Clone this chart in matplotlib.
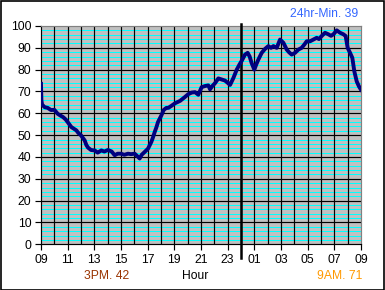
import matplotlib
matplotlib.use("Agg")
import matplotlib.pyplot as plt
from matplotlib.patches import Rectangle

plt.rcParams['font.family'] = ['Liberation Sans', 'DejaVu Sans']

# hours elapsed since 09:00
hours = [0.00, 0.03, 0.08, 0.275, 0.5, 0.75, 1.0, 1.25, 1.45, 1.65, 1.85, 2.0, 2.275, 2.45,
         2.65, 2.8, 3.0, 3.275, 3.4, 3.525, 3.75, 4.025, 4.25, 4.525, 4.75, 5.025, 5.3,
         5.525, 5.75, 6.0, 6.25, 6.525, 6.75, 7.025, 7.2, 7.4, 7.55, 7.775, 8.025, 8.275,
         8.4, 8.525, 8.65, 8.775, 9.025, 9.2, 9.4, 9.55, 9.8, 10.05, 10.43, 10.8, 11.05,
         11.3, 11.55, 11.8, 12.05, 12.3, 12.55, 12.68, 12.85, 13.05, 13.3, 13.55, 13.8,
         14.0, 14.18, 14.43, 14.68, 14.9, 15.05, 15.3, 15.5, 15.65, 15.8, 16.0, 16.15,
         16.3, 16.55, 16.8, 17.05, 17.25, 17.43, 17.68, 17.93, 18.18, 18.43, 18.6, 18.8,
         19.05, 19.3, 19.55, 19.75, 19.93, 20.18, 20.43, 20.68, 20.85, 21.05, 21.3, 21.55,
         21.75, 21.93, 22.18, 22.43, 22.68, 22.85, 23.0, 23.18, 23.35, 23.5, 23.68, 23.85,
         24.0]
values = [73.5, 66, 64, 62.8, 62.5, 61.5, 61.6, 59.8, 59.0, 58.3, 57.2, 56, 53.7, 53.0,
          52.2, 51.0, 49.9, 47.6, 45.5, 44.3, 43.2, 43.0, 42.0, 43.0, 42.5, 43.2, 42.5,
          40.8, 41.5, 41.5, 41.0, 41.5, 41.3, 41.5, 40.5, 39.3, 41.0, 42.3, 43.8, 46.9,
          49, 51.4, 53.5, 56, 59, 61.5, 62.5, 62.5, 63.5, 64.6, 65.7, 67.5, 68.8,
          69.5, 69.7, 68.5, 72.0, 72.5, 72.8, 71.0, 72.5, 73.8, 76.0, 75.5, 75.0,
          74.0, 73.0, 76.2, 80, 82.5, 84, 86.9, 87.7, 86, 83, 80, 82.5,
          84.6, 87.7, 89.5, 90.8, 90.0, 90.8, 90.0, 93.8, 92.3, 89.2, 88.0, 86.9,
          87.7, 89.2, 90.0, 91.5, 93.0, 93.0, 93.8, 94.6, 94.0, 95.4, 96.9, 96.2,
          95.5, 96.2, 98.0, 96.9, 96.2, 95.4, 90.0, 87.7, 85.4, 79.2, 74.6, 72.3,
          70.8]

tick_hours = list(range(0, 25, 2))
tick_labels = ["09", "11", "13", "15", "17", "19", "21", "23", "01", "03", "05", "07", "09"]
y_ticks = list(range(0, 101, 10))
midnight = 15

min_text = "24hr-Min. 39"
pm_text = "3PM. 42"
am_text = "9AM. 71"

W, H = 385, 290
fig = plt.figure(figsize=(W / 100, H / 100), dpi=100)
fig.patch.set_facecolor('white')
ax = fig.add_axes([41 / W, 1 - 244.3 / H, 320 / W, (244.3 - 26) / H])
ax.set_facecolor('#C0C0C0')
ax.set_xlim(0, 24)
ax.set_ylim(0, 100)

# minor cyan grid every 2
for y in range(2, 100, 2):
    if y % 10 != 0:
        ax.axhline(y, color='#00FFFF', lw=0.72, zorder=1)
for y in range(10, 100, 10):
    ax.axhline(y, color='black', lw=0.85, zorder=2)
for h in range(1, 24):
    ax.axvline(h, color='black', lw=0.85, zorder=2)

ax.plot([midnight, midnight], [-6.3, 101], color='black', lw=1.8, clip_on=False, zorder=4)

ax.plot(hours, values, color='#000080', lw=2.8, solid_joinstyle='round', zorder=5)

for s in ax.spines.values():
    s.set_color('#808080')
    s.set_linewidth(0.85)
ax.spines['left'].set_color('black')
ax.spines['bottom'].set_color('black')

ax.set_xticks(tick_hours)
ax.set_xticklabels(tick_labels)
ax.set_yticks(y_ticks)
ax.tick_params(direction='out', length=4, width=0.85, color='black', labelsize=8.7, pad=3)

fig.text(358 / W, 1 - 14 / H, min_text, color='#3366FF', fontsize=8.7, ha='right', va='center')
fig.text(107 / W, 1 - 276 / H, pm_text, color='#993300', fontsize=8.7, ha='center', va='center')
fig.text(195 / W, 1 - 276 / H, "Hour", color='black', fontsize=8.7, ha='center', va='center')
fig.text(362 / W, 1 - 276 / H, am_text, color='#FF9900', fontsize=8.7, ha='right', va='center')

fig.patches.append(Rectangle((0.5 / W, 0.5 / H), (W - 1.5) / W, (H - 1.5) / H,
                             transform=fig.transFigure, fill=False, edgecolor='black', lw=1.2))

fig.savefig("out.png", dpi=100)
